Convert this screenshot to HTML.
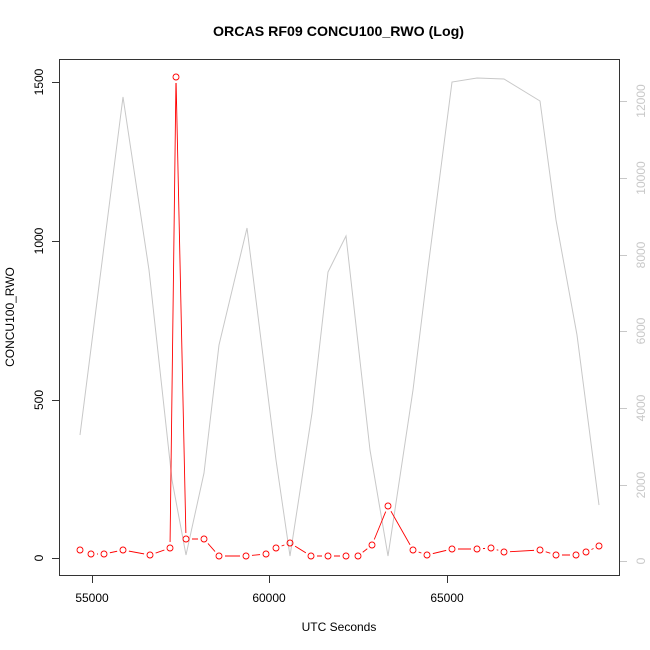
<!DOCTYPE html>
<html><head><meta charset="utf-8"><style>body{margin:0;background:#fff}svg{display:block}</style></head><body>
<svg width="650" height="650" viewBox="0 0 650 650" xmlns="http://www.w3.org/2000/svg" font-family="Liberation Sans, sans-serif">
<defs>
<g id="pts">
<circle cx="80" cy="550" r="3"/><circle cx="91" cy="554" r="3"/><circle cx="104" cy="554" r="3"/><circle cx="123" cy="550" r="3"/><circle cx="150" cy="555" r="3"/><circle cx="170" cy="548" r="3"/><circle cx="176" cy="77" r="3"/><circle cx="186" cy="539" r="3"/><circle cx="204" cy="539" r="3"/><circle cx="219" cy="556" r="3"/><circle cx="246" cy="556" r="3"/><circle cx="266" cy="554" r="3"/><circle cx="276" cy="548" r="3"/><circle cx="290" cy="543" r="3"/><circle cx="311" cy="556" r="3"/><circle cx="328" cy="556" r="3"/><circle cx="346" cy="556" r="3"/><circle cx="358" cy="556" r="3"/><circle cx="372" cy="545" r="3"/><circle cx="388" cy="506" r="3"/><circle cx="413" cy="550" r="3"/><circle cx="427" cy="555" r="3"/><circle cx="452" cy="549" r="3"/><circle cx="477" cy="549" r="3"/><circle cx="491" cy="548" r="3"/><circle cx="504" cy="552" r="3"/><circle cx="540" cy="550" r="3"/><circle cx="556" cy="555" r="3"/><circle cx="576" cy="555" r="3"/><circle cx="586" cy="552" r="3"/><circle cx="599" cy="546" r="3"/>
</g>
<mask id="gap" maskUnits="userSpaceOnUse" x="0" y="0" width="650" height="650">
<rect width="650" height="650" fill="#fff"/>
<use href="#pts" fill="#000" stroke="#000" stroke-width="6"/>
</mask>
</defs>
<rect width="650" height="650" fill="#fff"/>
<text x="338.5" y="36" font-size="14" font-weight="bold" text-anchor="middle" textLength="251" lengthAdjust="spacingAndGlyphs">ORCAS RF09 CONCU100_RWO (Log)</text>
<polyline fill="none" stroke="#c8c8c8" stroke-width="1" points="80,435 123,97 149,270 172,480 186,555 204,473 219,345 247,228 276,460 290,556 312,413 328,272 346,236 370,450 388,556 413,390 428,268 452,82 477,78 504,79 540,101 556,220 577,335 599,505"/>
<polyline fill="none" stroke="#ff0000" stroke-width="0.9" mask="url(#gap)" points="80,550 91,554 104,554 123,550 150,555 170,548 176,77 186,539 204,539 219,556 246,556 266,554 276,548 290,543 311,556 328,556 346,556 358,556 372,545 388,506 413,550 427,555 452,549 477,549 491,548 504,552 540,550 556,555 576,555 586,552 599,546"/>
<use href="#pts" fill="none" stroke="#ff0000" stroke-width="0.9"/>
<rect x="59.5" y="59.5" width="560" height="516" fill="none" stroke="#333" stroke-width="1"/>
<g stroke="#333">
<line x1="52" y1="82.5" x2="59" y2="82.5"/><line x1="52" y1="241.5" x2="59" y2="241.5"/><line x1="52" y1="400.5" x2="59" y2="400.5"/><line x1="52" y1="558.5" x2="59" y2="558.5"/>
<line x1="92.5" y1="576" x2="92.5" y2="583"/><line x1="269.5" y1="576" x2="269.5" y2="583"/><line x1="447.5" y1="576" x2="447.5" y2="583"/>
</g>
<g font-size="12" text-anchor="middle" fill="#000">
<text transform="translate(43,82) rotate(-90)">1500</text>
<text transform="translate(43,241) rotate(-90)">1000</text>
<text transform="translate(43,400) rotate(-90)">500</text>
<text transform="translate(43,558) rotate(-90)">0</text>
<text x="92" y="602">55000</text><text x="269" y="602">60000</text><text x="447" y="602">65000</text>
<text x="339" y="631">UTC Seconds</text>
<text transform="translate(14,317) rotate(-90)">CONCU100_RWO</text>
</g>
<g stroke="#c8c8c8">
<line x1="620" y1="561.5" x2="627" y2="561.5"/><line x1="620" y1="485.5" x2="627" y2="485.5"/><line x1="620" y1="408.5" x2="627" y2="408.5"/><line x1="620" y1="331.5" x2="627" y2="331.5"/><line x1="620" y1="255.5" x2="627" y2="255.5"/><line x1="620" y1="178.5" x2="627" y2="178.5"/><line x1="620" y1="101.5" x2="627" y2="101.5"/>
</g>
<g font-size="12" text-anchor="middle" fill="#c8c8c8">
<text transform="translate(645,561) rotate(-90)">0</text>
<text transform="translate(645,485) rotate(-90)">2000</text>
<text transform="translate(645,408) rotate(-90)">4000</text>
<text transform="translate(645,331) rotate(-90)">6000</text>
<text transform="translate(645,255) rotate(-90)">8000</text>
<text transform="translate(645,178) rotate(-90)">10000</text>
<text transform="translate(645,101) rotate(-90)">12000</text>
</g>
</svg>
</body></html>
